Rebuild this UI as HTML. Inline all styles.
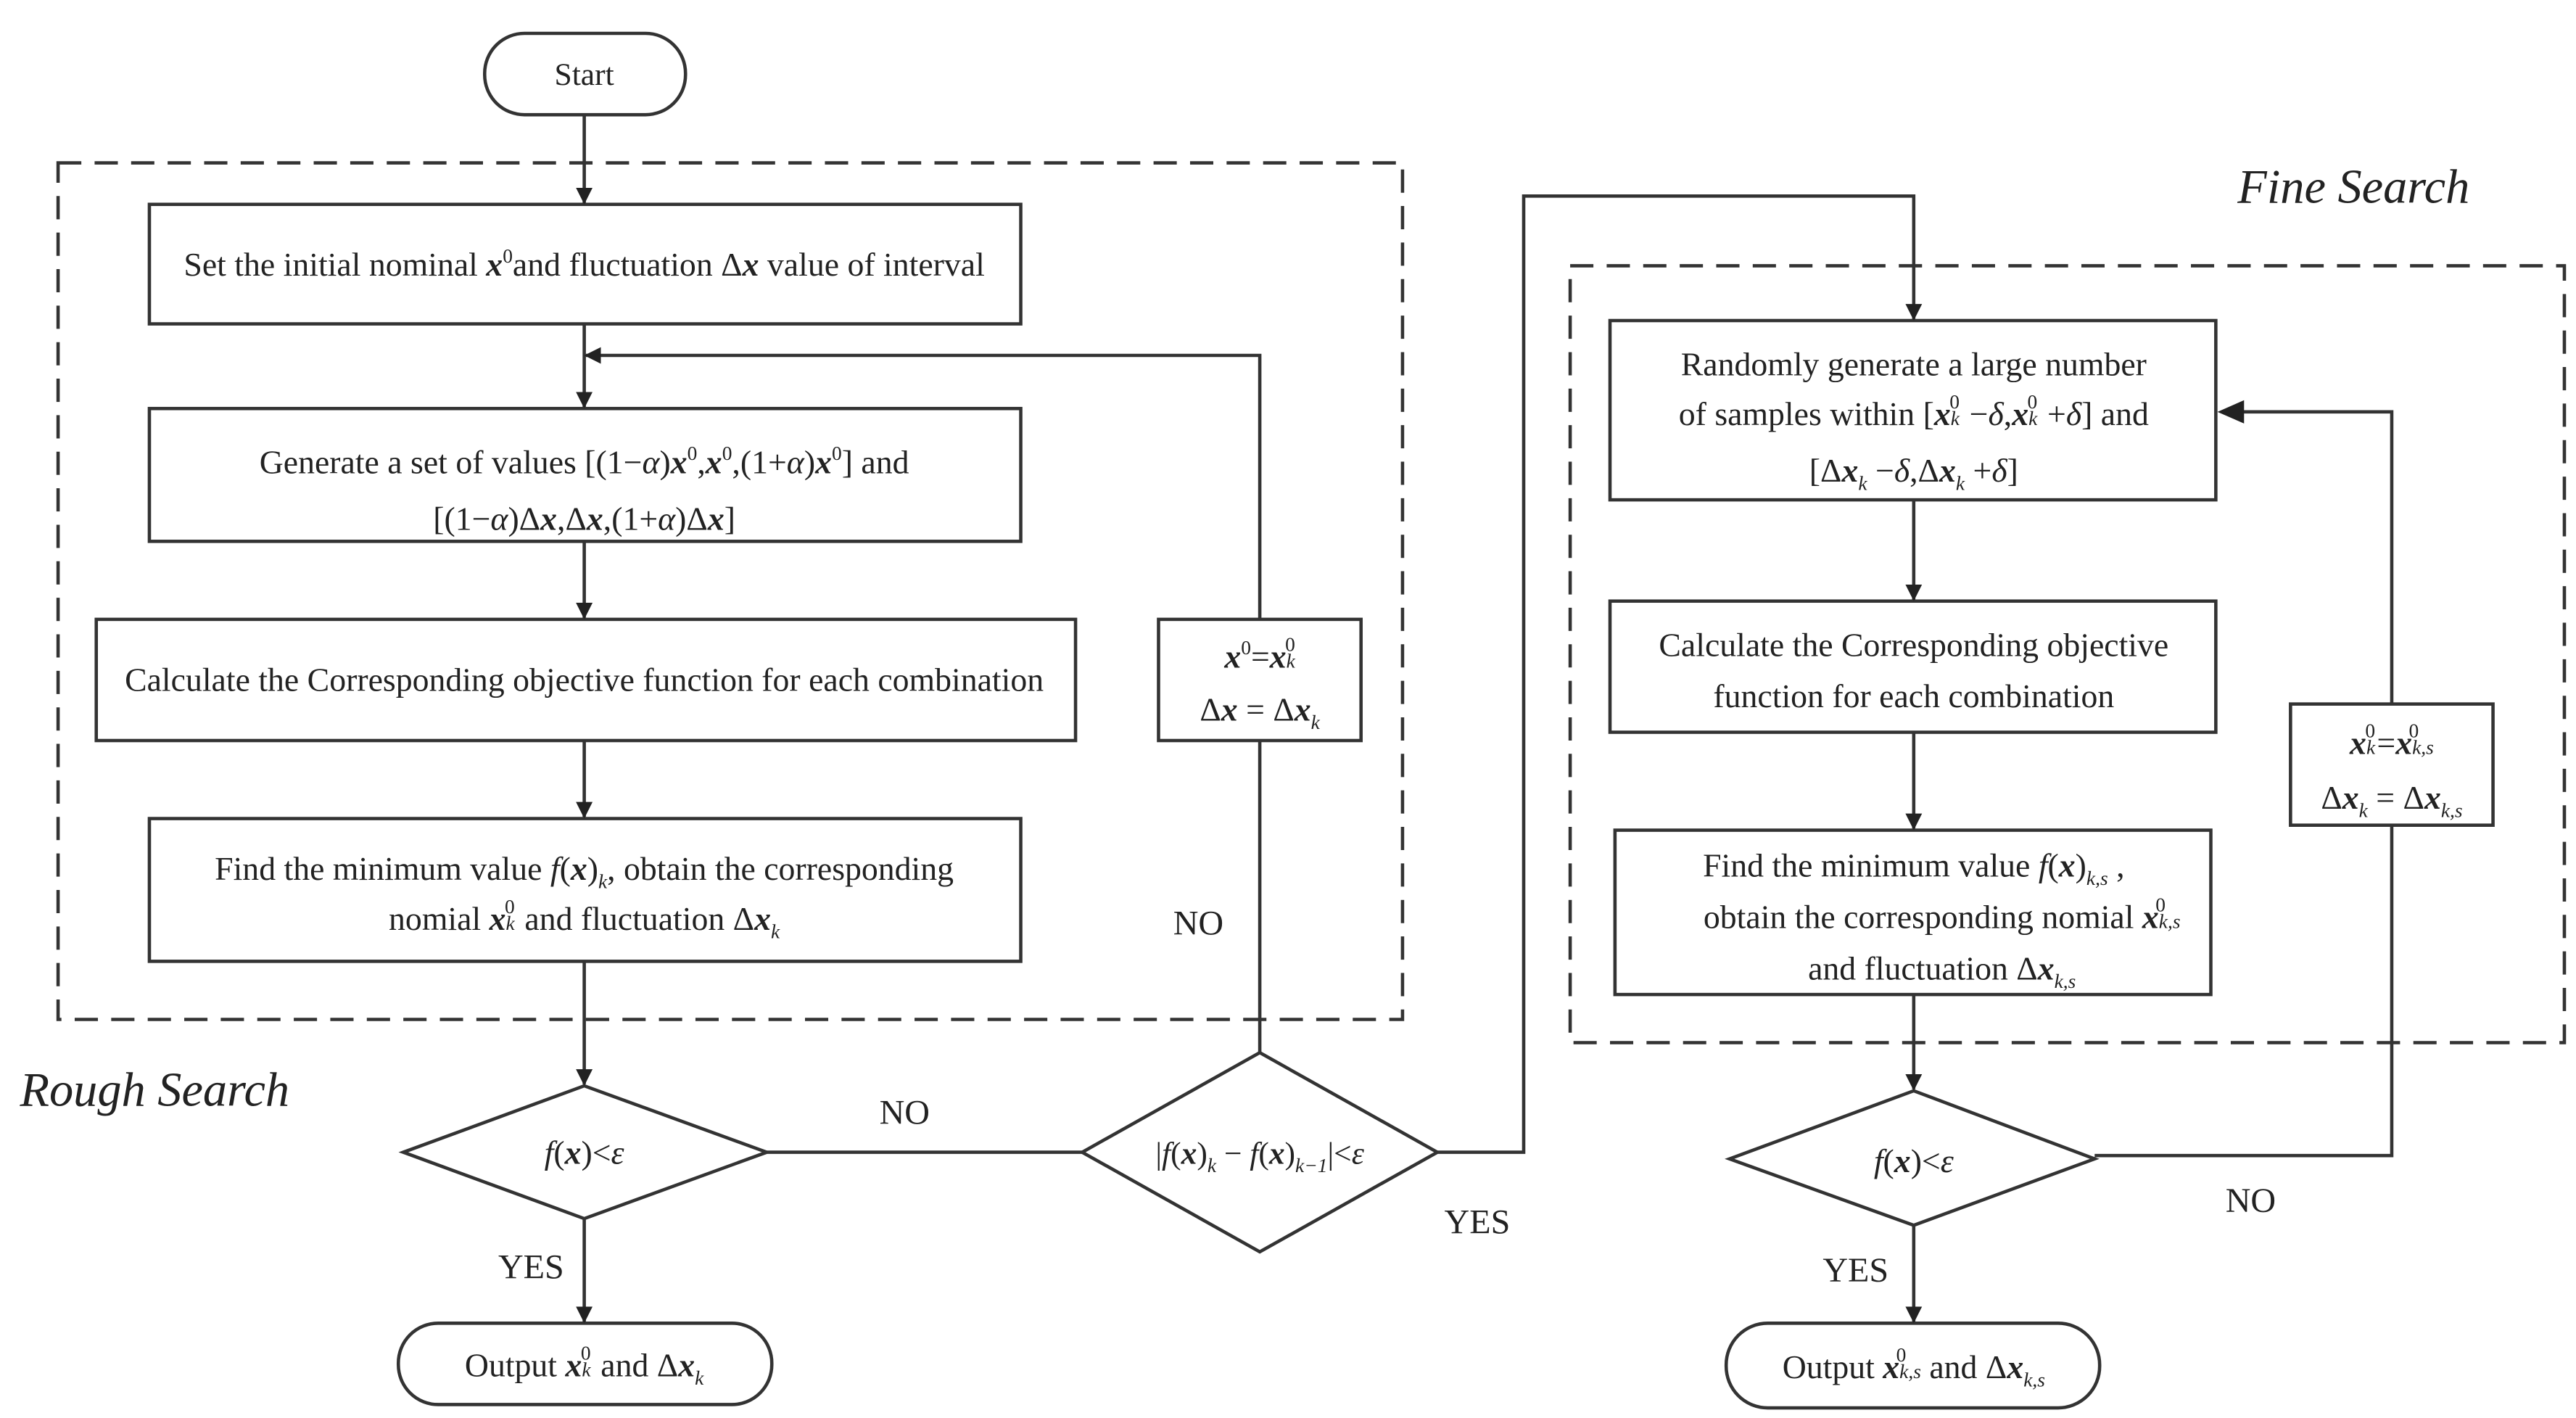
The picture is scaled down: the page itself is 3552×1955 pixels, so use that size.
<!DOCTYPE html>
<html><head><meta charset="utf-8"><style>
html,body{margin:0;padding:0;background:#fff;}
svg{display:block}
text{font-family:"Liberation Serif",serif;fill:#222;font-size:20px}
.m{font-style:italic;font-weight:bold}
.i{font-style:italic}
.s{font-size:12px}
</style></head><body>
<svg width="3552" height="1955" viewBox="0 0 1552 854" xmlns="http://www.w3.org/2000/svg">
<defs><marker id="a" markerWidth="10" markerHeight="10" refX="9" refY="5" orient="auto" markerUnits="userSpaceOnUse"><path d="M0,0 L10,5 L0,10 z" fill="#222"/></marker></defs>
<rect width="1552" height="854" fill="#fff"/>
<g fill="none" stroke="#333" stroke-width="2">
<rect x="35" y="98" width="810" height="516" stroke-dasharray="14,8"/>
<rect x="946" y="160" width="599" height="468" stroke-dasharray="14,8"/>
<rect x="292" y="20" width="121" height="49" rx="24"/>
<rect x="90" y="123" width="525" height="72"/>
<rect x="90" y="246" width="525" height="80"/>
<rect x="58" y="373" width="590" height="73"/>
<rect x="90" y="493" width="525" height="86"/>
<polygon points="243,694 352,654 462,694 352,734"/>
<rect x="240" y="797" width="225" height="49" rx="24"/>
<polygon points="652,694 759,634 866,694 759,754"/>
<rect x="698" y="373" width="122" height="73"/>
<rect x="970" y="193" width="365" height="108"/>
<rect x="970" y="362" width="365" height="79"/>
<rect x="973" y="500" width="359" height="99"/>
<polygon points="1042,698 1153,657 1262,698 1153,738"/>
<rect x="1040" y="797" width="225" height="51" rx="25"/>
<rect x="1380" y="424" width="122" height="73"/>
<g marker-end="url(#a)">
<line x1="352" y1="69" x2="352" y2="122"/>
<line x1="352" y1="195" x2="352" y2="245"/>
<line x1="352" y1="326" x2="352" y2="372"/>
<line x1="352" y1="446" x2="352" y2="492"/>
<line x1="352" y1="579" x2="352" y2="653"/>
<line x1="352" y1="734" x2="352" y2="796"/>
<polyline points="759,373 759,214 353,214"/>
<polyline points="866,694 918,694 918,118 1153,118 1153,192"/>
<line x1="1153" y1="301" x2="1153" y2="361"/>
<line x1="1153" y1="441" x2="1153" y2="499"/>
<line x1="1153" y1="599" x2="1153" y2="656"/>
<line x1="1153" y1="738" x2="1153" y2="796"/>
</g>
<polyline points="1441,424 1441,248 1350,248"/>
<polyline points="1262,696 1441,696 1441,497"/>
<line x1="462" y1="694" x2="652" y2="694"/>
<line x1="759" y1="634" x2="759" y2="446"/>
</g>
<path d="M1336,248 L1352,241 L1352,255 z" fill="#222"/>
<text x="352" y="51" text-anchor="middle" style="font-size:19px">Start</text>
<text x="1418" y="122" text-anchor="middle" class="i" style="font-size:29px">Fine Search</text>
<text x="12" y="666" class="i" style="font-size:29px">Rough Search</text>
<text x="352" y="166" text-anchor="middle">Set the initial nominal <tspan class="m">x</tspan><tspan class="s" dy="-8">0</tspan><tspan dy="8">and fluctuation  Δ</tspan><tspan class="m">x</tspan> value of interval</text>
<text x="352" y="285" text-anchor="middle">Generate a set of values  [(1−<tspan class="i">α</tspan>)<tspan class="m">x</tspan><tspan class="s" dy="-8">0</tspan><tspan dy="8">,</tspan><tspan class="m">x</tspan><tspan class="s" dy="-8">0</tspan><tspan dy="8">,(1+</tspan><tspan class="i">α</tspan>)<tspan class="m">x</tspan><tspan class="s" dy="-8">0</tspan><tspan dy="8">]   and</tspan></text>
<text x="352" y="319" text-anchor="middle">[(1−<tspan class="i">α</tspan>)Δ<tspan class="m">x</tspan>,Δ<tspan class="m">x</tspan>,(1+<tspan class="i">α</tspan>)Δ<tspan class="m">x</tspan>]</text>
<text x="352" y="416" text-anchor="middle">Calculate the Corresponding objective function for each combination</text>
<text x="352" y="530" text-anchor="middle">Find the minimum value  <tspan class="i">f</tspan>(<tspan class="m">x</tspan>)<tspan class="s i" dy="5">k</tspan><tspan dy="-5">, obtain the corresponding</tspan></text>
<text x="352" y="560" text-anchor="middle">nomial  <tspan class="m">x</tspan><tspan class="s i">k</tspan><tspan class="s" dx="-6" dy="-10">0</tspan><tspan dx="1" dy="10">  and fluctuation  Δ</tspan><tspan class="m">x</tspan><tspan class="s i" dy="5">k</tspan></text>
<text x="352" y="701" text-anchor="middle"><tspan class="i">f</tspan>(<tspan class="m">x</tspan>)&lt;<tspan class="i">ε</tspan></text>
<text x="320" y="770" text-anchor="middle" style="font-size:21px">YES</text>
<text x="545" y="677" text-anchor="middle" style="font-size:21px">NO</text>
<text x="722" y="563" text-anchor="middle" style="font-size:21px">NO</text>
<text x="890" y="743" text-anchor="middle" style="font-size:21px">YES</text>
<text x="352" y="829" text-anchor="middle">Output  <tspan class="m">x</tspan><tspan class="s i">k</tspan><tspan class="s" dx="-6" dy="-10">0</tspan><tspan dx="1" dy="10">   and  Δ</tspan><tspan class="m">x</tspan><tspan class="s i" dy="5">k</tspan></text>
<text x="759" y="701" text-anchor="middle" style="font-size:19px">|<tspan class="i">f</tspan>(<tspan class="m">x</tspan>)<tspan class="s i" dy="5">k</tspan><tspan dy="-5"> − </tspan><tspan class="i">f</tspan>(<tspan class="m">x</tspan>)<tspan class="s i" dy="5">k−1</tspan><tspan dy="-5">|&lt;</tspan><tspan class="i">ε</tspan></text>
<text x="759" y="402" text-anchor="middle"><tspan class="m">x</tspan><tspan class="s" dy="-8">0</tspan><tspan dy="8">=</tspan><tspan class="m">x</tspan><tspan class="s i">k</tspan><tspan class="s" dx="-6" dy="-10">0</tspan></text>
<text x="759" y="434" text-anchor="middle">Δ<tspan class="m">x</tspan> = Δ<tspan class="m">x</tspan><tspan class="s i" dy="5">k</tspan></text>
<text x="1153" y="226" text-anchor="middle">Randomly generate a large number</text>
<text x="1153" y="256" text-anchor="middle">of samples within   [<tspan class="m">x</tspan><tspan class="s i">k</tspan><tspan class="s" dx="-6" dy="-10">0</tspan><tspan dx="1" dy="10"> −</tspan><tspan class="i">δ</tspan>,<tspan class="m">x</tspan><tspan class="s i">k</tspan><tspan class="s" dx="-6" dy="-10">0</tspan><tspan dx="1" dy="10"> +</tspan><tspan class="i">δ</tspan>]   and</text>
<text x="1153" y="290" text-anchor="middle">[Δ<tspan class="m">x</tspan><tspan class="s i" dy="5">k</tspan><tspan dy="-5"> −</tspan><tspan class="i">δ</tspan>,Δ<tspan class="m">x</tspan><tspan class="s i" dy="5">k</tspan><tspan dy="-5"> +</tspan><tspan class="i">δ</tspan>]</text>
<text x="1153" y="395" text-anchor="middle">Calculate the Corresponding objective</text>
<text x="1153" y="426" text-anchor="middle">function for each combination</text>
<text x="1153" y="528" text-anchor="middle">Find the minimum value  <tspan class="i">f</tspan>(<tspan class="m">x</tspan>)<tspan class="s i" dy="5">k,s</tspan><tspan dy="-5">  ,</tspan></text>
<text x="1170" y="559" text-anchor="middle">obtain the corresponding nomial  <tspan class="m">x</tspan><tspan class="s i">k,s</tspan><tspan class="s" dx="-15" dy="-10">0</tspan><tspan dx="9" dy="10"> </tspan></text>
<text x="1170" y="590" text-anchor="middle">and fluctuation  Δ<tspan class="m">x</tspan><tspan class="s i" dy="5">k,s</tspan></text>
<text x="1153" y="706" text-anchor="middle"><tspan class="i">f</tspan>(<tspan class="m">x</tspan>)&lt;<tspan class="i">ε</tspan></text>
<text x="1118" y="772" text-anchor="middle" style="font-size:21px">YES</text>
<text x="1356" y="730" text-anchor="middle" style="font-size:21px">NO</text>
<text x="1153" y="830" text-anchor="middle">Output  <tspan class="m">x</tspan><tspan class="s i">k,s</tspan><tspan class="s" dx="-15" dy="-10">0</tspan><tspan dx="9" dy="10">  and Δ</tspan><tspan class="m">x</tspan><tspan class="s i" dy="5">k,s</tspan></text>
<text x="1441" y="454" text-anchor="middle"><tspan class="m">x</tspan><tspan class="s i">k</tspan><tspan class="s" dx="-6" dy="-10">0</tspan><tspan dx="1" dy="10">=</tspan><tspan class="m">x</tspan><tspan class="s i">k,s</tspan><tspan class="s" dx="-15" dy="-10">0</tspan></text>
<text x="1441" y="487" text-anchor="middle">Δ<tspan class="m">x</tspan><tspan class="s i" dy="5">k</tspan><tspan dy="-5"> = Δ</tspan><tspan class="m">x</tspan><tspan class="s i" dy="5">k,s</tspan></text>
</svg>
</body></html>
